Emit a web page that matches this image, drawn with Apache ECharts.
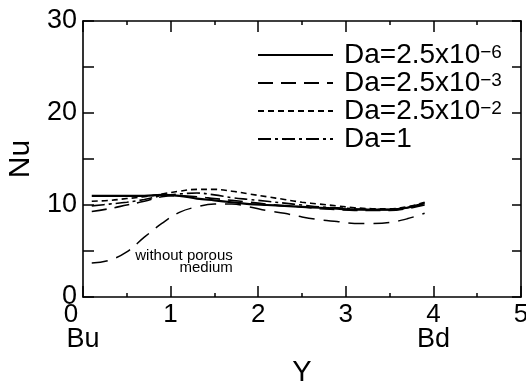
<!DOCTYPE html>
<html><head><meta charset="utf-8">
<script src="https://cdn.jsdelivr.net/npm/echarts@6/dist/echarts.min.js"></script>
<style>html,body{margin:0;padding:0;background:#fff}#c{width:526px;height:385px}</style>
</head><body><div id="c"></div>
<script>
const xs = [0.1,0.3,0.5,0.7,0.9,1.1,1.3,1.5,1.7,1.9,2.1,2.3,2.5,2.7,2.9,3.1,3.3,3.5,3.7,3.9];
const da6 = [11.0,11.0,11.0,11.0,11.1,11.0,10.7,10.5,10.3,10.1,10.0,9.9,9.8,9.7,9.6,9.5,9.5,9.5,9.7,10.2];
const da3 = [9.3,9.6,10.0,10.4,10.9,11.0,10.9,10.7,10.5,10.3,10.1,9.9,9.8,9.6,9.5,9.4,9.4,9.4,9.6,10.0];
const da2 = [10.4,10.5,10.7,10.9,11.2,11.5,11.7,11.7,11.5,11.2,10.9,10.6,10.3,10.1,9.9,9.7,9.6,9.6,9.8,10.3];
const da1 = [9.9,10.1,10.3,10.6,11.0,11.2,11.3,11.1,10.8,10.6,10.4,10.2,10.0,9.8,9.7,9.6,9.5,9.5,9.7,10.1];
const noPorous = [3.7,4.0,4.9,6.5,8.0,9.2,9.8,10.1,10.1,9.8,9.4,9.1,8.7,8.4,8.2,8.0,8.0,8.1,8.5,9.1];
const xTicks = [0,1,2,3,4,5];
const xEndLabels = {0:'Bu', 4:'Bd'};
const yTicks = [0,10,20,30];
const names = ['Da=2.5x10{s|−6}','Da=2.5x10{s|−3}','Da=2.5x10{s|−2}','Da=1'];
const noteText = 'without porous\nmedium';
const noteAt = [1.71, 3.8];

const pair = a => xs.map((x,i)=>[x,a[i]]);
const FONT = '"Liberation Sans Narrow", "Liberation Sans", sans-serif';
const FONT2 = '"Liberation Sans", sans-serif';
const chart = echarts.init(document.getElementById('c'));
const axisLine = {show:true, onZero:false, lineStyle:{color:'#000', width:1.6}};
const mk = (name, data, type, width) => ({
  name, type:'line', data:pair(data), smooth:0.4, symbol:'none',
  lineStyle:{color:'#000', width, type}, itemStyle:{color:'#000'}
});
const s5 = mk('NP', noPorous, [16,9], 1.5);
s5.markPoint = {symbol:'circle', symbolSize:0, data:[{coord:noteAt}],
  label:{show:true, position:'inside', formatter:noteText, align:'right', verticalAlign:'middle',
    fontFamily:FONT2, fontSize:15, lineHeight:12, color:'#000'}};
chart.setOption({
  animation:false,
  backgroundColor:'#fff',
  grid:{left:83, right:5, top:21, bottom:88, containLabel:false, outerBoundsMode:'none'},
  legend:{
    orient:'vertical', left:257, top:41, padding:0, itemGap:0, itemWidth:75, itemHeight:27,
    data:names,
    itemStyle:{opacity:0},
    textStyle:{fontFamily:FONT, fontSize:28, color:'#000', lineHeight:24, padding:[0,0,0,6],
      rich:{s:{fontFamily:FONT, fontSize:19, verticalAlign:'top', lineHeight:12, color:'#000'}}}
  },
  xAxis:[{
    type:'value', min:0, max:5, interval:1, position:'bottom',
    axisLine, splitLine:{show:false},
    axisTick:{inside:true, length:11, lineStyle:{color:'#000', width:1.5}},
    minorTick:{show:true, splitNumber:2, length:4, lineStyle:{color:'#000', width:1.5}},
    axisLabel:{margin:7, color:'#000', fontFamily:FONT2, fontSize:26, lineHeight:22,
      formatter:v=>{
        if(!xTicks.includes(v)) return '';
        let t = v===0 ? '{z|0}' : String(v);
        if(xEndLabels[v]) t += '\n{b|'+xEndLabels[v]+'}';
        return t;
      },
      rich:{z:{fontFamily:FONT2, fontSize:26, padding:[0,24,0,0], lineHeight:22},
            b:{fontFamily:FONT2, fontSize:27, lineHeight:28}}},
    name:'Y', nameLocation:'middle', nameGap:57,
    nameTextStyle:{fontFamily:FONT2, fontSize:29, color:'#000'}
  },{
    type:'value', min:0, max:5, interval:1, position:'top',
    axisLine, splitLine:{show:false},
    axisTick:{inside:true, length:11, lineStyle:{color:'#000', width:1.5}},
    minorTick:{show:true, splitNumber:2, length:4, lineStyle:{color:'#000', width:1.5}},
    axisLabel:{show:false}
  }],
  yAxis:[{
    type:'value', min:0, max:30, interval:5, position:'left',
    axisLine, splitLine:{show:false},
    axisTick:{inside:true, length:11, lineStyle:{color:'#000', width:1.5}},
    axisLabel:{margin:6, color:'#000', fontFamily:FONT2, fontSize:27,
      formatter:v=>yTicks.includes(v)?String(v):''},
    name:'Nu', nameLocation:'middle', nameGap:43, nameRotate:90,
    nameTextStyle:{fontFamily:FONT2, fontSize:30, color:'#000'}
  },{
    type:'value', min:0, max:30, interval:5, position:'right',
    axisLine, splitLine:{show:false},
    axisTick:{inside:true, length:9, lineStyle:{color:'#000', width:1.5}},
    axisLabel:{show:false}
  }],
  series:[
    mk(names[0], da6, 'solid', 2.2),
    mk(names[1], da3, [15,8], 1.6),
    mk(names[2], da2, [6,4], 1.6),
    mk(names[3], da1, [13,4,3,4], 1.6),
    s5
  ]
});
</script></body></html>
